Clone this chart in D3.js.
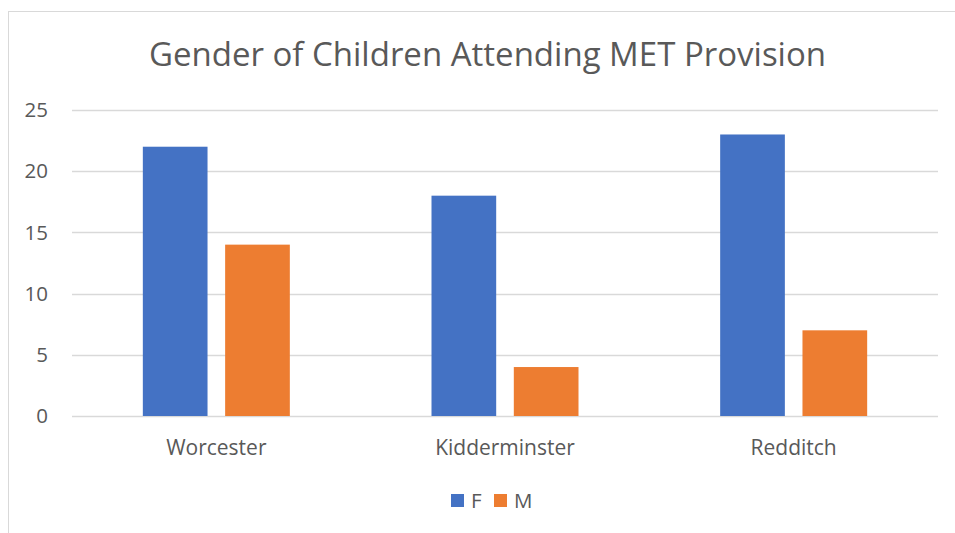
<!DOCTYPE html>
<html>
<head>
<meta charset="utf-8">
<script src="https://cdn.jsdelivr.net/npm/d3@7"></script>
<style>
  body{margin:0;background:#fff;}
  text{font-family:"Open Sans",sans-serif;fill:#595959;}
</style>
</head>
<body>
<svg id="chart" width="955" height="533"></svg>
<script>
const categories=["Worcester","Kidderminster","Redditch"];
const seriesNames=["F","M"];
const valuesF=[22,18,23];
const valuesM=[14,4,7];
const yTicks=[0,5,10,15,20,25];
const colors=["#4472C4","#ED7D31"];
const title="Gender of Children Attending MET Provision";

const svg=d3.select("#chart");
const plotLeft=72, plotRight=938, plotTop=110, plotBottom=416;

// chart frame (right and bottom run off the window)
svg.append("rect")
  .attr("x",8.5).attr("y",11.5)
  .attr("width",1000).attr("height",600)
  .style("fill","none").style("stroke","#d9d9d9").style("stroke-width",1);

const x0=d3.scaleBand().domain(categories).range([plotLeft,plotRight]);
const groupW=147;
const x1=d3.scaleBand().domain(seriesNames)
  .range([(x0.bandwidth()-groupW)/2,(x0.bandwidth()+groupW)/2])
  .paddingInner(0.214);
const y=d3.scaleLinear().domain([0,25]).range([plotBottom,plotTop]);

// gridlines
svg.append("g").selectAll("line").data(yTicks).enter().append("line")
  .attr("x1",plotLeft).attr("x2",plotRight)
  .attr("y1",d=>Math.round(y(d))+0.5).attr("y2",d=>Math.round(y(d))+0.5)
  .style("stroke","#d9d9d9").style("stroke-width",1.5);

// y tick labels
svg.append("g").selectAll("text").data(yTicks).enter().append("text")
  .attr("x",48).attr("y",d=>y(d))
  .attr("dy","0.35em")
  .attr("text-anchor","end")
  .style("font-size","20.5px")
  .text(d=>d);

// bars
const rows=categories.map((c,i)=>({cat:c,vals:[valuesF[i],valuesM[i]]}));
const groups=svg.append("g").selectAll("g").data(rows).enter().append("g")
  .attr("transform",d=>"translate("+x0(d.cat)+",0)");
groups.selectAll("rect").data(d=>d.vals.map((v,j)=>({s:seriesNames[j],v:v,j:j})))
  .enter().append("rect")
  .attr("x",d=>x1(d.s))
  .attr("width",x1.bandwidth())
  .attr("y",d=>y(d.v))
  .attr("height",d=>y(0)-y(d.v))
  .style("fill",d=>colors[d.j]);

// category labels
svg.append("g").selectAll("text").data(categories).enter().append("text")
  .attr("x",d=>x0(d)+x0.bandwidth()/2)
  .attr("y",455)
  .attr("text-anchor","middle")
  .style("font-size","21px")
  .text(d=>d);

// title
svg.append("text")
  .attr("x",487.5)
  .attr("y",66)
  .attr("text-anchor","middle")
  .style("font-size","33px")
  .text(title);

// legend
const legendX=[451,494];
const legend=svg.append("g").selectAll("g").data(seriesNames).enter().append("g")
  .attr("transform",(d,i)=>"translate("+legendX[i]+",494)");
legend.append("rect").attr("width",13).attr("height",13)
  .style("fill",(d,i)=>colors[i]);
legend.append("text").attr("x",20).attr("y",13.5)
  .style("font-size","20.5px")
  .text(d=>d);
</script>
</body>
</html>
